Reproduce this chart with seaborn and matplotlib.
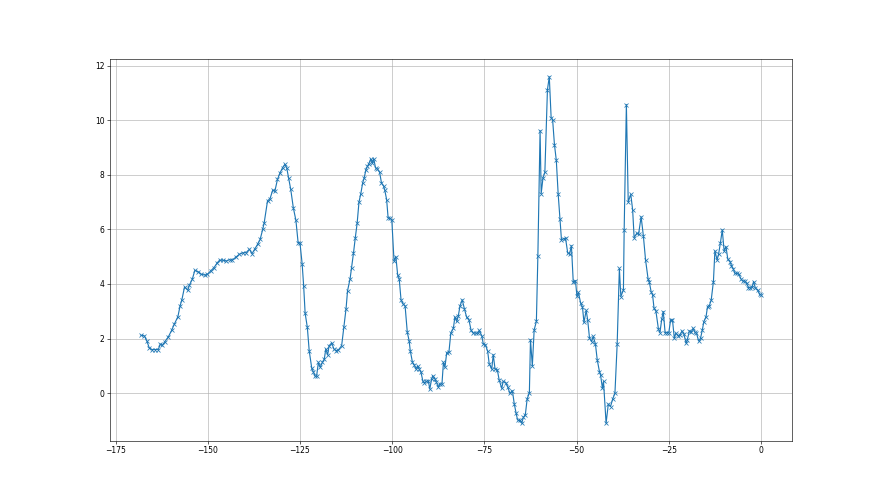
import numpy as np
import pandas as pd
import seaborn as sns
import matplotlib
matplotlib.use("Agg")
import matplotlib.pyplot as plt

x_vals = [
    -168.1, -167.2, -166.5, -165.9, -165.2, -164.3, -163.4, -162.9, -162.3, -161.6,
    -160.7, -159.8, -159.1, -158.1, -157.5, -157.0, -156.3, -155.4, -155.0, -154.2,
    -153.5, -152.6, -151.7, -150.8, -150.1, -149.2, -148.3, -147.4, -146.8, -145.9,
    -145.0, -144.1, -143.4, -142.3, -141.4, -140.5, -139.6, -138.7, -138.0, -137.2,
    -136.5, -135.8, -135.1, -134.7, -133.8, -133.1, -132.4, -131.8, -131.1, -130.4,
    -129.7, -129.1, -128.6, -128.1, -127.5, -126.8, -126.1, -125.5, -125.0,
    -124.4, -124.0, -123.6, -123.0, -122.5, -121.8, -121.4, -120.9, -120.5, -120.0,
    -119.5, -118.9, -118.4, -118.0, -117.5, -117.1, -116.4, -115.8, -115.2, -114.6,
    -113.7, -113.1, -112.5, -112.1, -111.4, -111.0, -110.5, -110.0, -109.5, -109.0,
    -108.5, -108.0, -107.6, -107.1, -106.7, -106.3, -105.8, -105.4, -105.0, -104.5,
    -104.0, -103.4, -102.9, -102.3, -102.0, -101.5, -101.1, -100.6, -100.1, -99.5,
    -99.0, -98.5, -98.1, -97.6, -97.0, -96.5, -95.9, -95.4, -95.1, -94.5,
    -94.0, -93.6, -93.1, -92.7, -92.2, -91.7, -91.3, -90.7, -90.2, -89.8,
    -89.3, -89.0, -88.4, -88.0, -87.5, -87.1, -86.5, -86.1, -85.7,
    -85.2, -84.6, -84.1, -83.4, -83.0, -82.5, -82.1, -81.6, -81.0, -80.4,
    -79.8, -79.2, -78.6, -78.0, -77.4, -76.8, -76.4, -75.7, -75.3, -74.7,
    -74.1, -73.7, -73.0, -72.6, -72.1, -71.5, -71.0, -70.3, -69.9, -69.2,
    -68.7, -68.1, -67.4, -66.9, -66.4, -66.0, -65.3, -64.9, -64.4, -63.9,
    -63.4, -62.8, -62.5, -62.0, -61.5, -60.9, -60.5, -59.9, -59.6, -59.1,
    -58.6, -57.9, -57.4, -56.9, -56.5, -56.0, -55.5, -55.0, -54.5, -54.1,
    -53.5, -53.0, -52.4, -51.9, -51.4, -50.9, -50.3, -49.9, -49.5, -48.9,
    -48.4, -48.0, -47.4, -47.0, -46.5, -45.9, -45.5, -44.9, -44.4, -43.8,
    -43.5, -43.0, -42.7, -42.0,
    -41.4, -40.8, -40.2, -39.6, -39.0, -38.4, -38.0, -37.3, -37.1, -36.5,
    -36.0, -35.3, -34.8, -34.4, -33.7, -33.2, -32.5, -31.9, -31.3, -30.6,
    -30.3, -29.8, -29.4, -29.0, -28.5, -27.8, -27.4, -26.9, -26.5, -26.0,
    -25.6, -25.0, -24.5, -24.0, -23.5, -23.1, -22.4, -22.0, -21.4, -20.9,
    -20.3, -20.0, -19.4, -18.9, -18.4, -17.9, -17.5, -16.9, -16.4, -15.9,
    -15.5, -14.9, -14.5, -14.0, -13.5, -12.9, -12.5, -11.9, -11.5, -11.0,
    -10.5, -10.0, -9.5, -9.0, -8.4, -8.0, -7.5, -7.1, -6.5, -6.0,
    -5.4, -5.0, -4.4, -3.9, -3.4, -3.0, -2.4, -2.0, -1.5, -0.9,
    -0.4, 0.0,
]

y_vals = [
    2.12, 2.10, 1.91, 1.67, 1.60, 1.60, 1.60, 1.79, 1.76, 1.89,
    2.06, 2.30, 2.52, 2.80, 3.20, 3.43, 3.89, 3.77, 3.95, 4.17,
    4.50, 4.45, 4.35, 4.33, 4.35, 4.48, 4.60, 4.78, 4.87, 4.87,
    4.84, 4.89, 4.87, 4.99, 5.09, 5.14, 5.15, 5.27, 5.11, 5.29,
    5.45, 5.63, 6.00, 6.24, 7.04, 7.13, 7.43, 7.40, 7.83, 8.07,
    8.26, 8.38, 8.26, 7.89, 7.46, 6.79, 6.33, 5.51, 5.51,
    4.72, 3.93, 2.93, 2.41, 1.56, 0.91, 0.79, 0.62, 0.62, 1.13,
    0.95, 1.13, 1.25, 1.62, 1.40, 1.74, 1.84, 1.62, 1.56, 1.58,
    1.74, 2.41, 3.10, 3.75, 4.20, 4.60, 5.12, 5.69, 6.22, 7.00,
    7.31, 7.70, 7.88, 8.19, 8.31, 8.41, 8.58, 8.43, 8.58, 8.25,
    8.21, 8.09, 7.70, 7.58, 7.43, 7.09, 6.42, 6.40, 6.36, 4.84,
    5.00, 4.32, 4.20, 3.42, 3.26, 3.20, 2.23, 1.92, 1.56, 1.13,
    1.03, 0.89, 0.99, 0.89, 0.77, 0.46, 0.38, 0.43, 0.46, 0.15,
    0.52, 0.64, 0.52, 0.40, 0.22, 0.34, 0.34, 1.13, 0.95,
    1.49, 1.52, 2.20, 2.38, 2.79, 2.63, 2.81, 3.20, 3.42, 3.08,
    2.78, 2.69, 2.30, 2.20, 2.20, 2.20, 2.30, 2.10, 1.81, 1.77,
    1.53, 1.08, 0.88, 1.41, 0.88, 0.86, 0.49, 0.18, 0.43, 0.39,
    0.24, 0.00, 0.09, -0.39, -0.73, -0.98, -1.00, -1.10, -0.88, -0.79,
    -0.21, 0.02, 1.96, 1.00, 2.32, 2.63, 5.01, 9.62, 7.31, 7.89,
    8.09, 11.12, 11.59, 10.09, 10.02, 9.10, 8.53, 7.31, 6.38, 5.62,
    5.66, 5.68, 5.13, 5.11, 5.40, 4.06, 4.12, 3.55, 3.69, 3.30,
    3.15, 2.59, 3.03, 2.69, 2.02, 1.89, 2.08, 1.81, 1.22, 0.79,
    0.67, 0.18, 0.43, -1.10,
    -0.40, -0.49, -0.21, 0.00, 1.79, 4.57, 3.54, 3.78, 5.98, 10.57,
    7.01, 7.28, 6.71, 5.70, 5.85, 5.82, 6.46, 5.77, 4.88, 4.17,
    4.09, 3.72, 3.60, 3.11, 3.01, 2.34, 2.22, 2.72, 2.99, 2.22,
    2.22, 2.22, 2.68, 2.68, 2.01, 2.20, 2.10, 2.13, 2.28, 2.16,
    1.83, 1.95, 2.28, 2.23, 2.38, 2.23, 2.20, 1.91, 2.01, 2.32,
    2.62, 2.80, 3.17, 3.21, 3.41, 4.09, 5.21, 4.88, 5.09, 5.51,
    5.98, 5.21, 5.37, 4.91, 4.82, 4.67, 4.55, 4.39, 4.39, 4.35,
    4.18, 4.11, 4.11, 4.02, 3.87, 3.87, 3.90, 4.09, 3.84, 3.78,
    3.62, 3.60,
]

fig, ax = plt.subplots(figsize=(16, 9), dpi=55)

sns.lineplot(x=x_vals, y=y_vals, ax=ax, sort=False, estimator=None,
             color="#1f77b4", linewidth=1.5, marker="x", markersize=6,
             markeredgecolor="#1f77b4", markeredgewidth=1.0)

ax.grid(True, color="#b0b0b0", linewidth=0.8)
ax.set_xlabel("")
ax.set_ylabel("")

plt.savefig("out.png", dpi=55)
